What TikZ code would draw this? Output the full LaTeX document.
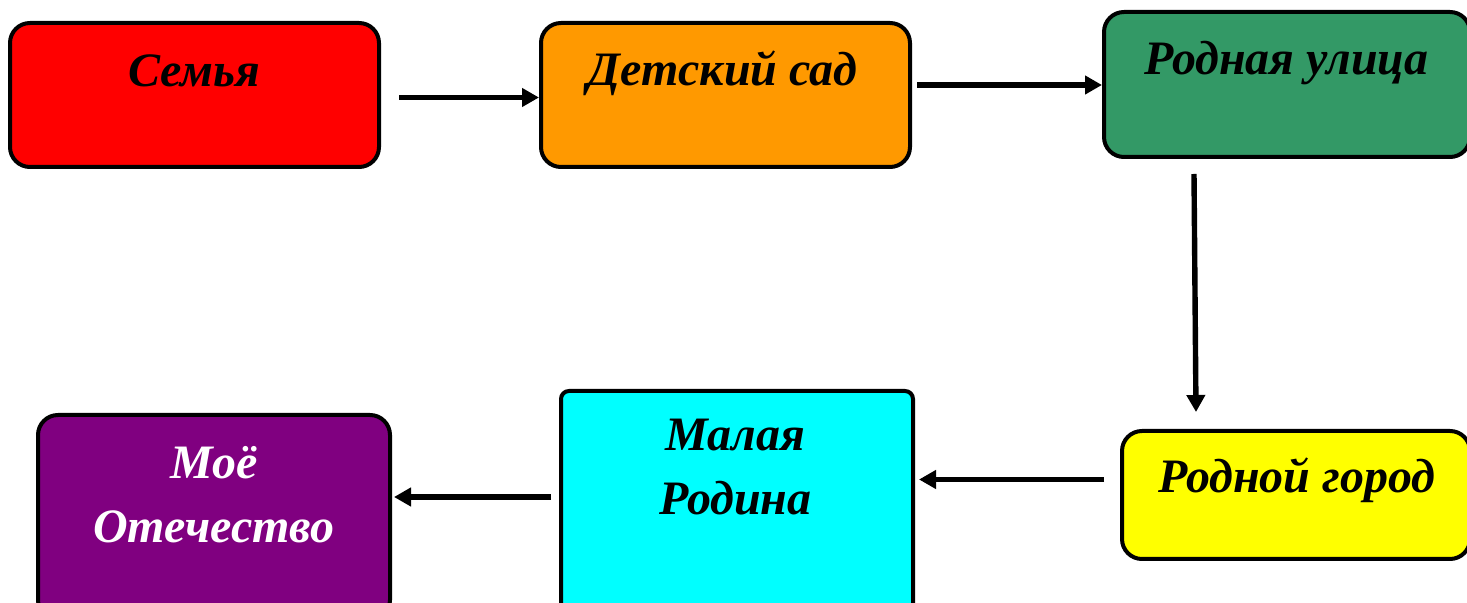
\documentclass[tikz,border=0pt]{standalone}
\usepackage{fontspec}
\setmainfont{Liberation Serif}
\usetikzlibrary{arrows.meta}
\definecolor{rd}{RGB}{255,0,0}
\definecolor{og}{RGB}{255,153,0}
\definecolor{gr}{RGB}{51,153,102}
\definecolor{yl}{RGB}{255,255,0}
\definecolor{cy}{RGB}{0,255,255}
\definecolor{pu}{RGB}{128,0,128}

\begin{document}
\begin{tikzpicture}[
    x=.5pt, y=-.5pt,
    box/.style={draw, line width=2pt, rounded corners=10pt, inner sep=0pt},
    txt/.style={anchor=base, align=center, inner sep=0pt,
                font=\fontsize{24}{32}\selectfont\bfseries\itshape},
    arr/.style={line width=2.7pt, -{Triangle[length=8.5pt,width=9pt]}}]

      \useasboundingbox (0,0) rectangle (1467,603);

      % boxes
      \node[box, fill=rd, minimum width=184.5pt, minimum height=72pt] (semya) at (194.5,95) {};
      \node[box, fill=og, minimum width=184.5pt, minimum height=72pt] (sad) at (725.5,95) {};
      \node[box, fill=gr, minimum width=183pt, minimum height=72.5pt] (ulica) at (1287,84.5) {};
      \node[box, fill=yl, minimum width=174pt, minimum height=64pt] (gorod) at (1296,495) {};
      \node[box, fill=cy, rounded corners=4pt, minimum width=176pt, minimum height=114.5pt] (rodina) at (737,505.5) {};
      \node[box, fill=pu, minimum width=176pt, minimum height=102.5pt] (otech) at (214,517.5) {};

      % texts
      \node[txt] (semya-t) at (194,87) {Семья};
      \node[txt] (sad-t) at (722.5,86) {Детский сад};
      \node[txt] (ulica-t) at (1286.5,75) {Родная улица};
      \node[txt] (gorod-t) at (1297,493) {Родной город};
      \node[txt] (rodina-t) at (735.5,515) {Малая\\Родина};
      \node[txt, text=white] (otech-t) at (214,543) {Моё\\Отечество};

      % arrows
      \draw[arr] ([shift={(18,2.5)}]semya.east) -- ([shift={(0,2.5)}]sad.west);
      \draw[arr] ([shift={(5,-10)}]sad.east) -- ([shift={(0,0.5)}]ulica.west);
      \draw[arr] ([shift={(-93,15)}]ulica.south) -- ([shift={(-100,-17)}]gorod.north);
      \draw[arr] ([shift={(-16,-15.5)}]gorod.west) -- ([shift={(4,-26)}]rodina.east);
      \draw[arr] ([shift={(-8,-8.5)}]rodina.west) -- ([shift={(2,-20.5)}]otech.east);

\end{tikzpicture}
\end{document}
